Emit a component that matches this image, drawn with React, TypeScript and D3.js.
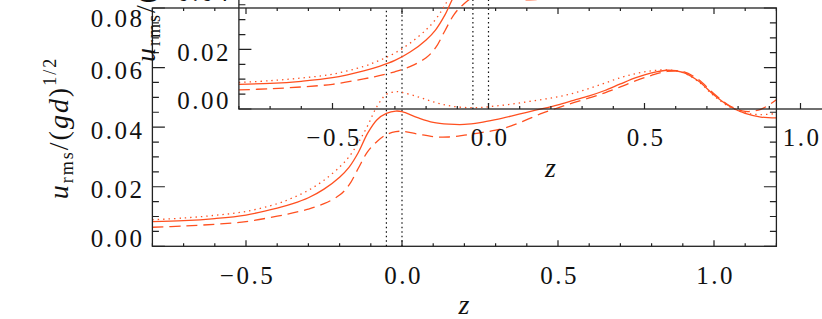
import React, { useEffect, useRef } from 'react';
import * as d3 from 'd3';

const zVals = [-0.8, -0.7, -0.6, -0.5, -0.4, -0.35, -0.3, -0.25, -0.2, -0.17, -0.14, -0.11, -0.08, -0.05, -0.02, 0, 0.05, 0.1, 0.15, 0.2, 0.25, 0.3, 0.35, 0.4, 0.45, 0.5, 0.55, 0.6, 0.65, 0.7, 0.75, 0.8, 0.85, 0.9, 0.95, 1.0, 1.05, 1.1, 1.15, 1.2];

const solidVals = [0.0083, 0.0086, 0.0093, 0.0105, 0.0128, 0.0143, 0.0163, 0.0192, 0.0232, 0.0265, 0.0315, 0.038, 0.0425, 0.0446, 0.0454, 0.0452, 0.0432, 0.0416, 0.041, 0.0409, 0.0415, 0.0425, 0.0437, 0.045, 0.0462, 0.0475, 0.049, 0.0505, 0.0523, 0.0545, 0.0566, 0.0582, 0.0591, 0.0584, 0.0555, 0.0508, 0.047, 0.0446, 0.0434, 0.0431];

const dottedVals = [0.0089, 0.0095, 0.0104, 0.0117, 0.0143, 0.0163, 0.0188, 0.0222, 0.0266, 0.03, 0.0348, 0.0405, 0.047, 0.051, 0.0519, 0.0517, 0.0502, 0.0485, 0.0472, 0.0466, 0.0466, 0.0471, 0.0477, 0.0485, 0.0493, 0.0502, 0.0514, 0.053, 0.0548, 0.0566, 0.058, 0.0589, 0.0592, 0.0583, 0.0553, 0.0505, 0.0468, 0.0448, 0.0442, 0.0446];

const dashedVals = [0.0064, 0.0068, 0.0074, 0.0083, 0.0101, 0.0112, 0.0125, 0.0143, 0.0172, 0.0205, 0.0262, 0.0318, 0.0352, 0.0375, 0.0385, 0.0386, 0.0377, 0.0368, 0.0367, 0.0373, 0.0381, 0.039, 0.0404, 0.0425, 0.0447, 0.0465, 0.0482, 0.0498, 0.0515, 0.0535, 0.0556, 0.0574, 0.0587, 0.0587, 0.056, 0.0512, 0.0472, 0.0453, 0.046, 0.0492];

const xTickLabels = [-0.5, 0.0, 0.5, 1.0];
const yTickLabels = [0.0, 0.02, 0.04, 0.06, 0.08];
const markerZ = [-0.05, 0.0];

const W = 822;
const H = 319;
const LINE = '#ff5020';
const AXIS = '#222';
const FONT = '"Liberation Serif", "Times New Roman", serif';

const App = () => {
  const svgRef = useRef<SVGSVGElement>(null);

  useEffect(() => {
    const svg = d3.select(svgRef.current);
    svg.selectAll('*').remove();

    const x = d3.scaleLinear().domain([-0.8, 1.2]).range([152.4, 776.4]);
    const y = d3.scaleLinear().domain([0, 0.08]).range([246.3, 8]);
    const [x0, x1] = x.range();
    const [y0, y1] = y.range();

    const fmt = (v: number) => d3.format('.1f')(v).replace('-', '\u2212');

    // the figure holds the same panel twice, the copy shifted up and right
    const drawPanel = (dx: number, dy: number) => {
      const g = svg.append('g').attr('transform', `translate(${dx},${dy})`);

      g.selectAll('.marker')
        .data(markerZ)
        .join('line')
        .attr('x1', (d) => x(d))
        .attr('x2', (d) => x(d))
        .attr('y1', y0)
        .attr('y2', y1)
        .attr('stroke', '#111')
        .attr('stroke-width', 1.2)
        .attr('stroke-dasharray', '1.5,3');

      const line = d3
        .line<number>()
        .x((d, i) => x(zVals[i]))
        .y((d) => y(d))
        .curve(d3.curveCatmullRom);

      const series = [
        { v: dottedVals, dash: '1.4,4' },
        { v: dashedVals, dash: '11,6' },
        { v: solidVals, dash: null },
      ];
      series.forEach((s) => {
        g.append('path')
          .attr('d', line(s.v))
          .attr('fill', 'none')
          .attr('stroke', LINE)
          .attr('stroke-width', 1.3)
          .attr('stroke-dasharray', s.dash);
      });

      g.append('rect')
        .attr('x', x0)
        .attr('y', y1)
        .attr('width', x1 - x0)
        .attr('height', y0 - y1)
        .attr('fill', 'none')
        .attr('stroke', AXIS)
        .attr('stroke-width', 1.3);

      // x ticks, bottom and top
      const xMinor = d3.range(-8, 13).map((d) => d / 10);
      const isXMajor = (d: number) => Math.abs(d * 2 - Math.round(d * 2)) < 1e-6;
      g.selectAll('.xt')
        .data(xMinor)
        .join('path')
        .attr('d', (d) => {
          const len = isXMajor(d) ? 6 : 3;
          return `M${x(d)},${y0}v${-len}M${x(d)},${y1}v${len}`;
        })
        .attr('stroke', AXIS)
        .attr('stroke-width', 1.2);

      // y ticks, left and right
      const yMinor = d3.range(0, 17).map((d) => d * 0.005);
      g.selectAll('.yt')
        .data(yMinor)
        .join('path')
        .attr('d', (d, i) => {
          const len = i % 4 === 0 ? 12.5 : 6.5;
          return `M${x0},${y(d)}h${len}M${x1},${y(d)}h${-len}`;
        })
        .attr('stroke', AXIS)
        .attr('stroke-width', 1.2);

      g.selectAll('.xl')
        .data(xTickLabels)
        .join('text')
        .attr('x', (d) => x(d) + 1.5)
        .attr('y', y0 + 37.5)
        .attr('text-anchor', 'middle')
        .attr('font-family', FONT)
        .attr('font-size', 25)
        .attr('letter-spacing', 2.5)
        .attr('fill', '#111')
        .text((d) => fmt(d));

      // end labels are kept inside the axis span
      g.selectAll('.yl')
        .data(yTickLabels)
        .join('text')
        .attr('x', x0 - 8)
        .attr('y', (d, i) => {
          if (i === 0) return y(d) + 0.5;
          if (i === yTickLabels.length - 1) return y(d) + 19;
          return y(d) + 11.5;
        })
        .attr('text-anchor', 'end')
        .attr('font-family', FONT)
        .attr('font-size', 25)
        .attr('letter-spacing', 2.5)
        .attr('fill', '#111')
        .text((d) => d3.format('.2f')(d));

      g.append('text')
        .attr('x', 464)
        .attr('y', 314)
        .attr('text-anchor', 'middle')
        .attr('font-family', FONT)
        .attr('font-style', 'italic')
        .attr('font-size', 28)
        .attr('fill', '#111')
        .text('z');

      const yt = g
        .append('text')
        .attr('transform', 'translate(68,128) rotate(-90)')
        .attr('text-anchor', 'middle')
        .attr('font-family', FONT)
        .attr('font-size', 28)
        .attr('letter-spacing', 2)
        .attr('fill', '#111');
      yt.append('tspan').attr('font-style', 'italic').text('u');
      yt.append('tspan').attr('font-size', 18).attr('dy', 5).text('rms');
      yt.append('tspan').attr('dy', -5).text('/(');
      yt.append('tspan').attr('font-style', 'italic').text('gd');
      yt.append('tspan').text(')');
      yt.append('tspan').attr('font-size', 18).attr('dy', -12).text('1/2');
    };

    drawPanel(0, 0);
    drawPanel(86.5, -137.3);
  }, []);

  return (
    <svg
      ref={svgRef}
      width={W}
      height={H}
      style={{ position: 'absolute', left: 0, top: 0, background: '#fff' }}
    />
  );
};

export default App;
